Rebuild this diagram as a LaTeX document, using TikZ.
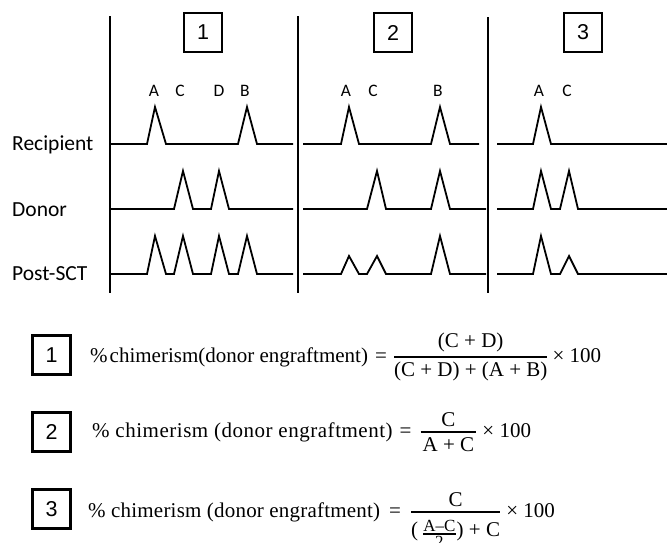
\documentclass[tikz,border=0pt]{standalone}
\usepackage{amsmath}
\usepackage{fontspec}
\setmainfont{Liberation Serif}
\newfontfamily\calib{Carlito}
\newfontfamily\arialf{Liberation Sans}
\newfontfamily\serifsp[LetterSpace=2.5]{Liberation Serif}
\newfontfamily\serifsq[LetterSpace=1]{Liberation Serif}
\newcommand{\fr}[2]{\genfrac{}{}{1.5pt}{0}{#1}{#2}}
\begin{document}
\begin{tikzpicture}[x=1pt,y=-1pt,
  trace/.style={line width=1.8pt,line join=miter},
  vline/.style={line width=2.2pt},
  numbox/.style={draw,line width=2.2pt,minimum width=38pt,minimum height=39pt,inner sep=0pt,font=\arialf\fontsize{21.5}{21.5}\selectfont},
  rowlab/.style={anchor=west,inner sep=0pt,font=\calib\fontsize{21.5}{23}\selectfont},
  peaklab/.style={inner sep=0pt,font=\calib\fontsize{17.5}{17.5}\selectfont},
  formula/.style={anchor=base west,inner sep=0pt,font=\fontsize{21}{25}\selectfont}]
\useasboundingbox (0,0) rectangle (667,542);
% vertical separators
\draw[vline] (110,16) -- (110,293);
\draw[vline] (298,16) -- (298,293);
\draw[vline] (488,17) -- (488,293);
% top boxes
\node[numbox] (b1) at (203,32.5) {1};
\node[numbox] (b2) at (393,32.5) {2};
\node[numbox] (b3) at (583,32.5) {3};
% row labels
\node[rowlab] (rrec) at (12,145) {Recipient};
\node[rowlab] (rdon) at (12,210) {Donor};
\node[rowlab] (rpost) at (12,274) {Post-SCT};
% peak labels
\node[peaklab] (p1a) at (154,91) {A};
\node[peaklab] (p1c) at (180,91) {C};
\node[peaklab] (p1d) at (219,91) {D};
\node[peaklab] (p1b) at (245,91) {B};
\node[peaklab] (p2a) at (346,91) {A};
\node[peaklab] (p2c) at (373,91) {C};
\node[peaklab] (p2b) at (438,91) {B};
\node[peaklab] (p3a) at (539,91) {A};
\node[peaklab] (p3c) at (567,91) {C};
% panel 1
\draw[trace] (110,144)--(147,144)--(155,107)--(166,144)--(238,144)--(247,107)--(257,144)--(293,144);
\draw[trace] (110,209)--(174,209)--(183,171)--(193,209)--(211,209)--(219,171)--(229,209)--(293,209);
\draw[trace] (110,274)--(147,274)--(155,236)--(166,274)--(174,274)--(183,236)--(193,274)--(211,274)--(219,236)--(229,274)--(238,274)--(247,236)--(257,274)--(293,274);
% panel 2
\draw[trace] (303,144)--(341,144)--(349,107)--(359,144)--(431,144)--(440,107)--(450,144)--(479,144);
\draw[trace] (303,209)--(367,209)--(377,171)--(386,209)--(431,209)--(440,171)--(450,209)--(486,209);
\draw[trace] (303,274)--(341,274)--(349,256)--(359,274)--(367,274)--(377,256)--(386,274)--(431,274)--(440,236)--(450,274)--(486,274);
% panel 3
\draw[trace] (497,144)--(533,144)--(541,107)--(551,144)--(667,144);
\draw[trace] (497,209)--(533,209)--(541,171)--(551,209)--(560,209)--(569,171)--(578,209)--(667,209);
\draw[trace] (497,274)--(533,274)--(541,236)--(551,274)--(560,274)--(569,256)--(578,274)--(667,274);
% lower boxes
\node[numbox] (f1b) at (51.5,355) {1};
\node[numbox] (f2b) at (51.5,432) {2};
\node[numbox] (f3b) at (51.5,509) {3};
% formulas
\node[formula] (f1) at (90,362) {$\text{\%\kern2pt chimerism(donor engraftment)\kern7pt=\kern6pt}\fr{\text{(C + D)}}{\text{(C + D) + (A + B)}}\text{\kern4pt× 100}$};
\node[formula] (f2) at (92,437) {$\text{\serifsp\% chimerism (donor engraftment)\kern7pt=\kern8pt}\fr{\raisebox{-4pt}{C}}{\text{\kern2pt A + C\kern2pt}}\text{\kern5pt× 100}$};
\node[formula] (f3) at (88,517) {$\text{\serifsq\% chimerism (donor engraftment)\kern9pt=\kern9pt}\fr{\raisebox{-4pt}{C}}{\rule{0pt}{19pt}\text{(\kern4pt}\raisebox{-2.2pt}{\fontsize{17}{17}\selectfont$\genfrac{}{}{1.2pt}{1}{\mbox{A–C}}{\mbox{2}}$}\text{) + C}}\text{\kern5pt× 100}$};
\end{tikzpicture}
\end{document}
